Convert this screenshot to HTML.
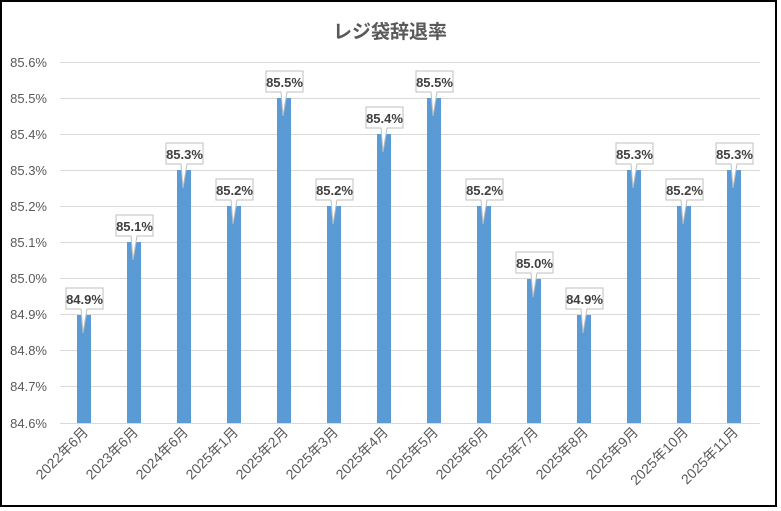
<!DOCTYPE html>
<html><head><meta charset="utf-8"><style>
html,body{margin:0;padding:0;background:#fff;width:781px;height:511px;overflow:hidden}
</style></head><body>
<svg width="781" height="511" xmlns="http://www.w3.org/2000/svg" font-family="'Liberation Sans','Noto Sans CJK JP',sans-serif">
<rect x="1" y="1" width="775" height="505" fill="#fff" stroke="#000" stroke-width="2"/>
<text x="390" y="38" text-anchor="middle" font-size="19" font-weight="bold" fill="#595959">レジ袋辞退率</text>
<g stroke="#d9d9d9" stroke-width="1">
<line x1="60" x2="760" y1="62.5" y2="62.5"/><line x1="60" x2="760" y1="98.5" y2="98.5"/><line x1="60" x2="760" y1="134.5" y2="134.5"/><line x1="60" x2="760" y1="170.5" y2="170.5"/><line x1="60" x2="760" y1="206.5" y2="206.5"/><line x1="60" x2="760" y1="242.5" y2="242.5"/><line x1="60" x2="760" y1="278.5" y2="278.5"/><line x1="60" x2="760" y1="314.5" y2="314.5"/><line x1="60" x2="760" y1="350.5" y2="350.5"/><line x1="60" x2="760" y1="386.5" y2="386.5"/><line x1="60" x2="760" y1="423.5" y2="423.5"/>
</g>
<g font-size="13" fill="#595959" text-anchor="end">
<text x="47" y="67">85.6%</text><text x="47" y="103">85.5%</text><text x="47" y="139">85.4%</text><text x="47" y="175">85.3%</text><text x="47" y="211">85.2%</text><text x="47" y="247">85.1%</text><text x="47" y="283">85.0%</text><text x="47" y="319">84.9%</text><text x="47" y="355">84.8%</text><text x="47" y="391">84.7%</text><text x="47" y="428">84.6%</text>
</g>
<g fill="#5b9bd5">
<rect x="77" y="315" width="14" height="108"/>
<rect x="127" y="242" width="14" height="181"/>
<rect x="177" y="170" width="14" height="253"/>
<rect x="227" y="206" width="14" height="217"/>
<rect x="277" y="98" width="14" height="325"/>
<rect x="327" y="206" width="14" height="217"/>
<rect x="377" y="134" width="14" height="289"/>
<rect x="427" y="98" width="14" height="325"/>
<rect x="477" y="206" width="14" height="217"/>
<rect x="527" y="279" width="14" height="144"/>
<rect x="577" y="315" width="14" height="108"/>
<rect x="627" y="170" width="14" height="253"/>
<rect x="677" y="206" width="14" height="217"/>
<rect x="727" y="170" width="14" height="253"/>
</g>
<g fill="#fff" stroke="#bfbfbf">
<path d="M66 288h37v21h-16l-4 24l-2 -24h-15z"/>
<path d="M116 215h37v21h-16l-4 24l-2 -24h-15z"/>
<path d="M166 143h37v21h-16l-4 24l-2 -24h-15z"/>
<path d="M216 179h37v21h-16l-4 24l-2 -24h-15z"/>
<path d="M266 71h37v21h-16l-4 24l-2 -24h-15z"/>
<path d="M316 179h37v21h-16l-4 24l-2 -24h-15z"/>
<path d="M366 107h37v21h-16l-4 24l-2 -24h-15z"/>
<path d="M416 71h37v21h-16l-4 24l-2 -24h-15z"/>
<path d="M466 179h37v21h-16l-4 24l-2 -24h-15z"/>
<path d="M516 252h37v21h-16l-4 24l-2 -24h-15z"/>
<path d="M566 288h37v21h-16l-4 24l-2 -24h-15z"/>
<path d="M616 143h37v21h-16l-4 24l-2 -24h-15z"/>
<path d="M666 179h37v21h-16l-4 24l-2 -24h-15z"/>
<path d="M716 143h37v21h-16l-4 24l-2 -24h-15z"/>
</g>
<g font-size="13" font-weight="bold" fill="#404040" text-anchor="middle">
<text x="84.5" y="304">84.9%</text>
<text x="134.5" y="231">85.1%</text>
<text x="184.5" y="159">85.3%</text>
<text x="234.5" y="195">85.2%</text>
<text x="284.5" y="87">85.5%</text>
<text x="334.5" y="195">85.2%</text>
<text x="384.5" y="123">85.4%</text>
<text x="434.5" y="87">85.5%</text>
<text x="484.5" y="195">85.2%</text>
<text x="534.5" y="268">85.0%</text>
<text x="584.5" y="304">84.9%</text>
<text x="634.5" y="159">85.3%</text>
<text x="684.5" y="195">85.2%</text>
<text x="734.5" y="159">85.3%</text>
</g>
<g font-size="14" fill="#595959" text-anchor="end">
<text transform="translate(89,433) rotate(-45)">2022年6月</text>
<text transform="translate(139,433) rotate(-45)">2023年6月</text>
<text transform="translate(189,433) rotate(-45)">2024年6月</text>
<text transform="translate(239,433) rotate(-45)">2025年1月</text>
<text transform="translate(289,433) rotate(-45)">2025年2月</text>
<text transform="translate(339,433) rotate(-45)">2025年3月</text>
<text transform="translate(389,433) rotate(-45)">2025年4月</text>
<text transform="translate(439,433) rotate(-45)">2025年5月</text>
<text transform="translate(489,433) rotate(-45)">2025年6月</text>
<text transform="translate(539,433) rotate(-45)">2025年7月</text>
<text transform="translate(589,433) rotate(-45)">2025年8月</text>
<text transform="translate(639,433) rotate(-45)">2025年9月</text>
<text transform="translate(689,433) rotate(-45)">2025年10月</text>
<text transform="translate(739,433) rotate(-45)">2025年11月</text>
</g>
</svg>
</body></html>
